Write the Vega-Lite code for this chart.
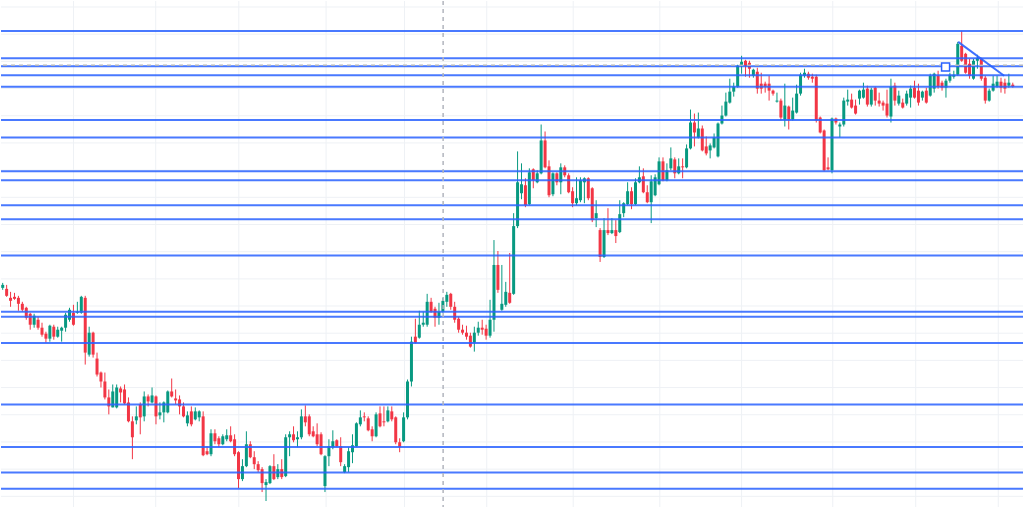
{
  "$schema": "https://vega.github.io/schema/vega-lite/v6.json",
  "width": 1024,
  "height": 508,
  "padding": 0,
  "autosize": {"type": "fit", "contains": "padding"},
  "background": "#ffffff",
  "config": {"view": {"stroke": null}, "scale": {"continuousPadding": 0}},
  "datasets": {
    "candles": [
      {"i":0,"o":1212,"h":1217,"l":1210,"c":1215},
      {"i":1,"o":1211,"h":1215,"l":1203,"c":1204},
      {"i":2,"o":1202,"h":1208,"l":1193,"c":1199},
      {"i":3,"o":1203,"h":1207,"l":1200,"c":1201},
      {"i":4,"o":1202,"h":1204,"l":1189,"c":1196},
      {"i":5,"o":1196,"h":1198,"l":1188,"c":1190},
      {"i":6,"o":1192,"h":1193,"l":1180,"c":1182},
      {"i":7,"o":1186,"h":1187,"l":1170,"c":1175},
      {"i":8,"o":1175,"h":1186,"l":1172,"c":1184},
      {"i":9,"o":1180,"h":1183,"l":1170,"c":1172},
      {"i":10,"o":1172,"h":1177,"l":1163,"c":1165},
      {"i":11,"o":1166,"h":1168,"l":1157,"c":1161},
      {"i":12,"o":1161,"h":1175,"l":1158,"c":1174},
      {"i":13,"o":1173,"h":1175,"l":1160,"c":1163},
      {"i":14,"o":1163,"h":1173,"l":1162,"c":1170},
      {"i":15,"o":1169,"h":1173,"l":1158,"c":1172},
      {"i":16,"o":1172,"h":1187,"l":1168,"c":1185},
      {"i":17,"o":1180,"h":1192,"l":1178,"c":1190},
      {"i":18,"o":1187,"h":1195,"l":1174,"c":1175},
      {"i":19,"o":1187,"h":1198,"l":1186,"c":1188},
      {"i":20,"o":1187,"h":1204,"l":1186,"c":1203},
      {"i":21,"o":1202,"h":1204,"l":1135,"c":1147},
      {"i":22,"o":1145,"h":1173,"l":1143,"c":1167},
      {"i":23,"o":1167,"h":1168,"l":1142,"c":1145},
      {"i":24,"o":1141,"h":1147,"l":1123,"c":1125},
      {"i":25,"o":1127,"h":1128,"l":1112,"c":1118},
      {"i":26,"o":1118,"h":1127,"l":1100,"c":1102},
      {"i":27,"o":1102,"h":1110,"l":1085,"c":1093},
      {"i":28,"o":1092,"h":1115,"l":1092,"c":1108},
      {"i":29,"o":1092,"h":1115,"l":1091,"c":1112},
      {"i":30,"o":1111,"h":1113,"l":1097,"c":1107},
      {"i":31,"o":1110,"h":1115,"l":1095,"c":1096},
      {"i":32,"o":1097,"h":1102,"l":1077,"c":1078},
      {"i":33,"o":1078,"h":1083,"l":1040,"c":1062},
      {"i":34,"o":1079,"h":1093,"l":1075,"c":1083},
      {"i":35,"o":1095,"h":1097,"l":1065,"c":1082},
      {"i":36,"o":1083,"h":1108,"l":1078,"c":1103},
      {"i":37,"o":1103,"h":1105,"l":1093,"c":1098},
      {"i":38,"o":1097,"h":1112,"l":1096,"c":1104},
      {"i":39,"o":1103,"h":1104,"l":1075,"c":1083},
      {"i":40,"o":1084,"h":1097,"l":1080,"c":1087},
      {"i":41,"o":1087,"h":1098,"l":1077,"c":1097},
      {"i":42,"o":1087,"h":1109,"l":1086,"c":1108},
      {"i":43,"o":1108,"h":1121,"l":1102,"c":1103},
      {"i":44,"o":1101,"h":1110,"l":1095,"c":1099},
      {"i":45,"o":1100,"h":1104,"l":1085,"c":1093},
      {"i":46,"o":1093,"h":1097,"l":1082,"c":1083},
      {"i":47,"o":1076,"h":1088,"l":1073,"c":1084},
      {"i":48,"o":1088,"h":1093,"l":1073,"c":1075},
      {"i":49,"o":1080,"h":1092,"l":1079,"c":1088},
      {"i":50,"o":1082,"h":1089,"l":1078,"c":1088},
      {"i":51,"o":1083,"h":1088,"l":1043,"c":1044},
      {"i":52,"o":1048,"h":1053,"l":1044,"c":1045},
      {"i":53,"o":1045,"h":1070,"l":1043,"c":1066},
      {"i":54,"o":1066,"h":1070,"l":1055,"c":1058},
      {"i":55,"o":1061,"h":1063,"l":1052,"c":1055},
      {"i":56,"o":1055,"h":1065,"l":1054,"c":1063},
      {"i":57,"o":1060,"h":1070,"l":1058,"c":1064},
      {"i":58,"o":1064,"h":1073,"l":1057,"c":1058},
      {"i":59,"o":1060,"h":1065,"l":1043,"c":1045},
      {"i":60,"o":1047,"h":1048,"l":1011,"c":1020},
      {"i":61,"o":1020,"h":1040,"l":1018,"c":1033},
      {"i":62,"o":1033,"h":1068,"l":1032,"c":1055},
      {"i":63,"o":1055,"h":1058,"l":1041,"c":1042},
      {"i":64,"o":1042,"h":1048,"l":1030,"c":1035},
      {"i":65,"o":1035,"h":1038,"l":1027,"c":1029},
      {"i":66,"o":1030,"h":1032,"l":1007,"c":1016},
      {"i":67,"o":1014,"h":1020,"l":998,"c":1017},
      {"i":68,"o":1016,"h":1034,"l":1015,"c":1033},
      {"i":69,"o":1033,"h":1045,"l":1019,"c":1020},
      {"i":70,"o":1022,"h":1035,"l":1020,"c":1030},
      {"i":71,"o":1030,"h":1040,"l":1020,"c":1022},
      {"i":72,"o":1023,"h":1065,"l":1022,"c":1062},
      {"i":73,"o":1062,"h":1068,"l":1043,"c":1065},
      {"i":74,"o":1065,"h":1073,"l":1057,"c":1059},
      {"i":75,"o":1060,"h":1068,"l":1052,"c":1062},
      {"i":76,"o":1062,"h":1090,"l":1060,"c":1083},
      {"i":77,"o":1083,"h":1094,"l":1073,"c":1077},
      {"i":78,"o":1083,"h":1085,"l":1063,"c":1065},
      {"i":79,"o":1068,"h":1073,"l":1062,"c":1063},
      {"i":80,"o":1065,"h":1076,"l":1053,"c":1055},
      {"i":81,"o":1065,"h":1067,"l":1044,"c":1045},
      {"i":82,"o":1013,"h":1044,"l":1007,"c":1043},
      {"i":83,"o":1043,"h":1060,"l":1033,"c":1053},
      {"i":84,"o":1052,"h":1069,"l":1050,"c":1058},
      {"i":85,"o":1059,"h":1060,"l":1052,"c":1053},
      {"i":86,"o":1053,"h":1062,"l":1033,"c":1037},
      {"i":87,"o":1027,"h":1035,"l":1026,"c":1033},
      {"i":88,"o":1032,"h":1052,"l":1027,"c":1048},
      {"i":89,"o":1047,"h":1065,"l":1036,"c":1054},
      {"i":90,"o":1053,"h":1077,"l":1052,"c":1076},
      {"i":91,"o":1075,"h":1089,"l":1073,"c":1082},
      {"i":92,"o":1083,"h":1087,"l":1078,"c":1082},
      {"i":93,"o":1081,"h":1083,"l":1068,"c":1069},
      {"i":94,"o":1070,"h":1073,"l":1058,"c":1063},
      {"i":95,"o":1063,"h":1087,"l":1062,"c":1085},
      {"i":96,"o":1086,"h":1093,"l":1072,"c":1073},
      {"i":97,"o":1078,"h":1093,"l":1073,"c":1077},
      {"i":98,"o":1078,"h":1093,"l":1077,"c":1089},
      {"i":99,"o":1088,"h":1093,"l":1078,"c":1080},
      {"i":100,"o":1082,"h":1083,"l":1055,"c":1057},
      {"i":101,"o":1057,"h":1061,"l":1047,"c":1052},
      {"i":102,"o":1058,"h":1087,"l":1057,"c":1082},
      {"i":103,"o":1082,"h":1120,"l":1080,"c":1118},
      {"i":104,"o":1118,"h":1163,"l":1113,"c":1158},
      {"i":105,"o":1163,"h":1181,"l":1156,"c":1157},
      {"i":106,"o":1162,"h":1189,"l":1161,"c":1175},
      {"i":107,"o":1175,"h":1188,"l":1173,"c":1177},
      {"i":108,"o":1175,"h":1206,"l":1173,"c":1198},
      {"i":109,"o":1198,"h":1202,"l":1187,"c":1188},
      {"i":110,"o":1191,"h":1193,"l":1173,"c":1182},
      {"i":111,"o":1182,"h":1197,"l":1175,"c":1188},
      {"i":112,"o":1188,"h":1202,"l":1187,"c":1199},
      {"i":113,"o":1198,"h":1208,"l":1193,"c":1205},
      {"i":114,"o":1206,"h":1207,"l":1190,"c":1193},
      {"i":115,"o":1193,"h":1198,"l":1177,"c":1180},
      {"i":116,"o":1181,"h":1183,"l":1167,"c":1170},
      {"i":117,"o":1170,"h":1175,"l":1165,"c":1167},
      {"i":118,"o":1167,"h":1174,"l":1160,"c":1163},
      {"i":119,"o":1164,"h":1167,"l":1152,"c":1153},
      {"i":120,"o":1157,"h":1173,"l":1148,"c":1167},
      {"i":121,"o":1167,"h":1178,"l":1164,"c":1172},
      {"i":122,"o":1172,"h":1180,"l":1165,"c":1170},
      {"i":123,"o":1171,"h":1175,"l":1160,"c":1164},
      {"i":124,"o":1164,"h":1200,"l":1162,"c":1180},
      {"i":125,"o":1180,"h":1260,"l":1168,"c":1235},
      {"i":126,"o":1235,"h":1249,"l":1207,"c":1210},
      {"i":127,"o":1190,"h":1235,"l":1189,"c":1196},
      {"i":128,"o":1195,"h":1218,"l":1193,"c":1208},
      {"i":129,"o":1207,"h":1247,"l":1196,"c":1197},
      {"i":130,"o":1206,"h":1287,"l":1205,"c":1274},
      {"i":131,"o":1274,"h":1349,"l":1272,"c":1318},
      {"i":132,"o":1307,"h":1337,"l":1301,"c":1316},
      {"i":133,"o":1315,"h":1322,"l":1293,"c":1295},
      {"i":134,"o":1296,"h":1332,"l":1295,"c":1328},
      {"i":135,"o":1331,"h":1332,"l":1312,"c":1320},
      {"i":136,"o":1318,"h":1330,"l":1317,"c":1327},
      {"i":137,"o":1327,"h":1376,"l":1326,"c":1360},
      {"i":138,"o":1360,"h":1369,"l":1332,"c":1333},
      {"i":139,"o":1334,"h":1340,"l":1303,"c":1305},
      {"i":140,"o":1306,"h":1328,"l":1304,"c":1327},
      {"i":141,"o":1327,"h":1328,"l":1315,"c":1318},
      {"i":142,"o":1318,"h":1337,"l":1306,"c":1333},
      {"i":143,"o":1333,"h":1335,"l":1323,"c":1325},
      {"i":144,"o":1325,"h":1327,"l":1307,"c":1308},
      {"i":145,"o":1309,"h":1313,"l":1293,"c":1297},
      {"i":146,"o":1297,"h":1323,"l":1295,"c":1302},
      {"i":147,"o":1300,"h":1323,"l":1298,"c":1320},
      {"i":148,"o":1318,"h":1323,"l":1297,"c":1322},
      {"i":149,"o":1322,"h":1323,"l":1300,"c":1302},
      {"i":150,"o":1312,"h":1313,"l":1278,"c":1280},
      {"i":151,"o":1282,"h":1300,"l":1273,"c":1287},
      {"i":152,"o":1270,"h":1272,"l":1238,"c":1243},
      {"i":153,"o":1243,"h":1282,"l":1242,"c":1270},
      {"i":154,"o":1270,"h":1292,"l":1265,"c":1267},
      {"i":155,"o":1267,"h":1282,"l":1266,"c":1270},
      {"i":156,"o":1270,"h":1280,"l":1257,"c":1264},
      {"i":157,"o":1268,"h":1300,"l":1267,"c":1286},
      {"i":158,"o":1287,"h":1298,"l":1283,"c":1297},
      {"i":159,"o":1296,"h":1318,"l":1295,"c":1309},
      {"i":160,"o":1309,"h":1313,"l":1291,"c":1296},
      {"i":161,"o":1296,"h":1322,"l":1295,"c":1318},
      {"i":162,"o":1318,"h":1334,"l":1317,"c":1323},
      {"i":163,"o":1324,"h":1332,"l":1307,"c":1308},
      {"i":164,"o":1308,"h":1315,"l":1297,"c":1298},
      {"i":165,"o":1298,"h":1325,"l":1277,"c":1319},
      {"i":166,"o":1305,"h":1326,"l":1304,"c":1323},
      {"i":167,"o":1316,"h":1343,"l":1315,"c":1339},
      {"i":168,"o":1339,"h":1343,"l":1319,"c":1320},
      {"i":169,"o":1320,"h":1337,"l":1319,"c":1330},
      {"i":170,"o":1332,"h":1353,"l":1330,"c":1342},
      {"i":171,"o":1341,"h":1343,"l":1322,"c":1327},
      {"i":172,"o":1327,"h":1342,"l":1326,"c":1334},
      {"i":173,"o":1334,"h":1342,"l":1322,"c":1333},
      {"i":174,"o":1333,"h":1356,"l":1332,"c":1352},
      {"i":175,"o":1352,"h":1391,"l":1351,"c":1378},
      {"i":176,"o":1378,"h":1387,"l":1354,"c":1368},
      {"i":177,"o":1363,"h":1388,"l":1362,"c":1372},
      {"i":178,"o":1372,"h":1375,"l":1349,"c":1350},
      {"i":179,"o":1354,"h":1364,"l":1345,"c":1347},
      {"i":180,"o":1350,"h":1357,"l":1342,"c":1355},
      {"i":181,"o":1353,"h":1367,"l":1352,"c":1363},
      {"i":182,"o":1344,"h":1378,"l":1343,"c":1377},
      {"i":183,"o":1377,"h":1395,"l":1376,"c":1385},
      {"i":184,"o":1385,"h":1408,"l":1384,"c":1399},
      {"i":185,"o":1398,"h":1422,"l":1397,"c":1409},
      {"i":186,"o":1409,"h":1418,"l":1404,"c":1414},
      {"i":187,"o":1414,"h":1436,"l":1413,"c":1435},
      {"i":188,"o":1435,"h":1445,"l":1427,"c":1439},
      {"i":189,"o":1440,"h":1441,"l":1424,"c":1435},
      {"i":190,"o":1438,"h":1440,"l":1423,"c":1432},
      {"i":191,"o":1425,"h":1432,"l":1423,"c":1431},
      {"i":192,"o":1429,"h":1433,"l":1407,"c":1412},
      {"i":193,"o":1417,"h":1428,"l":1407,"c":1412},
      {"i":194,"o":1417,"h":1419,"l":1408,"c":1414},
      {"i":195,"o":1417,"h":1425,"l":1400,"c":1410},
      {"i":196,"o":1410,"h":1411,"l":1405,"c":1407},
      {"i":197,"o":1399,"h":1408,"l":1398,"c":1400},
      {"i":198,"o":1400,"h":1402,"l":1380,"c":1383},
      {"i":199,"o":1381,"h":1417,"l":1374,"c":1395},
      {"i":200,"o":1394,"h":1395,"l":1371,"c":1381},
      {"i":201,"o":1381,"h":1403,"l":1380,"c":1390},
      {"i":202,"o":1388,"h":1416,"l":1387,"c":1407},
      {"i":203,"o":1407,"h":1428,"l":1405,"c":1426},
      {"i":204,"o":1425,"h":1432,"l":1423,"c":1428},
      {"i":205,"o":1427,"h":1429,"l":1421,"c":1423},
      {"i":206,"o":1424,"h":1427,"l":1418,"c":1422},
      {"i":207,"o":1424,"h":1426,"l":1378,"c":1380},
      {"i":208,"o":1383,"h":1384,"l":1367,"c":1368},
      {"i":209,"o":1370,"h":1371,"l":1329,"c":1330},
      {"i":210,"o":1333,"h":1343,"l":1330,"c":1331},
      {"i":211,"o":1330,"h":1383,"l":1327,"c":1382},
      {"i":212,"o":1382,"h":1383,"l":1376,"c":1378},
      {"i":213,"o":1374,"h":1378,"l":1363,"c":1376},
      {"i":214,"o":1376,"h":1403,"l":1374,"c":1400},
      {"i":215,"o":1399,"h":1411,"l":1395,"c":1401},
      {"i":216,"o":1401,"h":1407,"l":1392,"c":1393},
      {"i":217,"o":1395,"h":1401,"l":1386,"c":1387},
      {"i":218,"o":1402,"h":1411,"l":1396,"c":1410},
      {"i":219,"o":1403,"h":1418,"l":1402,"c":1411},
      {"i":220,"o":1412,"h":1415,"l":1394,"c":1396},
      {"i":221,"o":1396,"h":1413,"l":1394,"c":1411},
      {"i":222,"o":1413,"h":1414,"l":1395,"c":1400},
      {"i":223,"o":1400,"h":1408,"l":1394,"c":1397},
      {"i":224,"o":1398,"h":1400,"l":1390,"c":1395},
      {"i":225,"o":1397,"h":1411,"l":1383,"c":1385},
      {"i":226,"o":1384,"h":1422,"l":1378,"c":1414},
      {"i":227,"o":1415,"h":1418,"l":1395,"c":1400},
      {"i":228,"o":1397,"h":1410,"l":1395,"c":1405},
      {"i":229,"o":1398,"h":1402,"l":1392,"c":1393},
      {"i":230,"o":1397,"h":1410,"l":1395,"c":1407},
      {"i":231,"o":1403,"h":1415,"l":1393,"c":1412},
      {"i":232,"o":1413,"h":1420,"l":1402,"c":1403},
      {"i":233,"o":1410,"h":1417,"l":1395,"c":1398},
      {"i":234,"o":1403,"h":1410,"l":1400,"c":1409},
      {"i":235,"o":1410,"h":1413,"l":1397,"c":1398},
      {"i":236,"o":1405,"h":1427,"l":1404,"c":1425},
      {"i":237,"o":1412,"h":1428,"l":1408,"c":1427},
      {"i":238,"o":1425,"h":1430,"l":1412,"c":1414},
      {"i":239,"o":1418,"h":1420,"l":1410,"c":1413},
      {"i":240,"o":1413,"h":1422,"l":1403,"c":1420},
      {"i":241,"o":1420,"h":1428,"l":1418,"c":1426},
      {"i":242,"o":1424,"h":1430,"l":1422,"c":1426},
      {"i":243,"o":1426,"h":1459,"l":1425,"c":1457},
      {"i":244,"o":1455,"h":1470,"l":1439,"c":1440},
      {"i":245,"o":1447,"h":1448,"l":1427,"c":1428},
      {"i":246,"o":1437,"h":1442,"l":1422,"c":1425},
      {"i":247,"o":1422,"h":1442,"l":1421,"c":1440},
      {"i":248,"o":1440,"h":1446,"l":1432,"c":1443},
      {"i":249,"o":1442,"h":1443,"l":1420,"c":1422},
      {"i":250,"o":1423,"h":1425,"l":1397,"c":1400},
      {"i":251,"o":1400,"h":1412,"l":1399,"c":1410},
      {"i":252,"o":1410,"h":1425,"l":1409,"c":1417},
      {"i":253,"o":1414,"h":1425,"l":1413,"c":1419},
      {"i":254,"o":1419,"h":1423,"l":1408,"c":1413},
      {"i":255,"o":1418,"h":1422,"l":1407,"c":1412},
      {"i":256,"o":1415,"h":1427,"l":1413,"c":1418},
      {"i":257,"o":1416,"h":1418,"l":1413,"c":1414}
    ],
    "levels": [
      {"p":1470},{"p":1442.5},{"p":1434.5},{"p":1425.5},{"p":1414},{"p":1380.5},{"p":1363},
      {"p":1329},{"p":1320},{"p":1295},{"p":1281},{"p":1244.5},{"p":1188},{"p":1183},
      {"p":1156.7},{"p":1095},{"p":1052.3},{"p":1026.7},{"p":1010.3}
    ],
    "hgrid": [
      {"p":1002.7},{"p":1030},{"p":1057.3},{"p":1084.6},{"p":1111.9},{"p":1139.2},{"p":1166.5},
      {"p":1193.8},{"p":1221},{"p":1248.3},{"p":1275.6},{"p":1302.9},{"p":1330.2},{"p":1357.5},
      {"p":1384.8},{"p":1412.1},{"p":1439.4},{"p":1466.7},{"p":1494}
    ],
    "vgrid": [
      {"i":18.03},{"i":38.93},{"i":60.08},{"i":82.28},{"i":102.23},{"i":123.16},
      {"i":145.15},{"i":167.2},{"i":188.0},{"i":211.2},{"i":232.3},{"i":253.3}
    ],
    "trend": [{"i":243.1,"p":1459},{"i":254.8,"p":1425}],
    "marker": [{"i":239.9,"p":1433.8}],
    "crossx": [{"i":112.06}],
    "crossy": [{"p":1435.5}]
  },
  "layer": [
    {
      "data": {"name": "hgrid"},
      "mark": {"type": "rule", "color": "#eef1f5", "strokeWidth": 1},
      "encoding": {
        "y": {"field": "p", "type": "quantitative", "scale": {"domain": [992, 1500], "nice": false, "zero": false, "padding": 0}, "axis": null}
      }
    },
    {
      "data": {"name": "vgrid"},
      "mark": {"type": "rule", "color": "#eef1f5", "strokeWidth": 1},
      "encoding": {
        "x": {"field": "i", "type": "quantitative", "scale": {"domain": [-0.432, 259.6], "nice": false, "zero": false, "padding": 0}, "axis": null}
      }
    },
    {
      "data": {"name": "candles"},
      "mark": {"type": "rule", "strokeWidth": 1},
      "encoding": {
        "x": {"field": "i", "type": "quantitative", "axis": null},
        "y": {"field": "l", "type": "quantitative", "axis": null},
        "y2": {"field": "h"},
        "color": {"condition": {"test": "datum.c >= datum.o", "value": "#089981"}, "value": "#f23645"}
      }
    },
    {
      "data": {"name": "candles"},
      "mark": {"type": "bar", "size": 3},
      "encoding": {
        "x": {"field": "i", "type": "quantitative", "axis": null},
        "y": {"field": "o", "type": "quantitative", "axis": null},
        "y2": {"field": "c"},
        "color": {"condition": {"test": "datum.c >= datum.o", "value": "#089981"}, "value": "#f23645"}
      }
    },
    {
      "data": {"name": "levels"},
      "mark": {"type": "rule", "color": "#2962ff", "strokeWidth": 2, "opacity": 0.85},
      "encoding": {
        "y": {"field": "p", "type": "quantitative", "axis": null}
      }
    },
    {
      "data": {"name": "crossx"},
      "mark": {"type": "rule", "color": "#b2b5be", "strokeWidth": 1.5, "strokeDash": [4, 4]},
      "encoding": {
        "x": {"field": "i", "type": "quantitative", "axis": null}
      }
    },
    {
      "data": {"name": "crossy"},
      "mark": {"type": "rule", "color": "#b2b5be", "strokeWidth": 1.5, "strokeDash": [4, 4]},
      "encoding": {
        "y": {"field": "p", "type": "quantitative", "axis": null}
      }
    },
    {
      "data": {"name": "trend"},
      "mark": {"type": "line", "color": "#2962ff", "strokeWidth": 2, "opacity": 0.9},
      "encoding": {
        "x": {"field": "i", "type": "quantitative", "axis": null},
        "y": {"field": "p", "type": "quantitative", "axis": null}
      }
    },
    {
      "data": {"name": "marker"},
      "mark": {"type": "point", "shape": "square", "size": 64, "filled": true, "fill": "#ffffff", "stroke": "#2962ff", "strokeWidth": 1.5, "opacity": 1},
      "encoding": {
        "x": {"field": "i", "type": "quantitative", "axis": null},
        "y": {"field": "p", "type": "quantitative", "axis": null}
      }
    }
  ]
}
